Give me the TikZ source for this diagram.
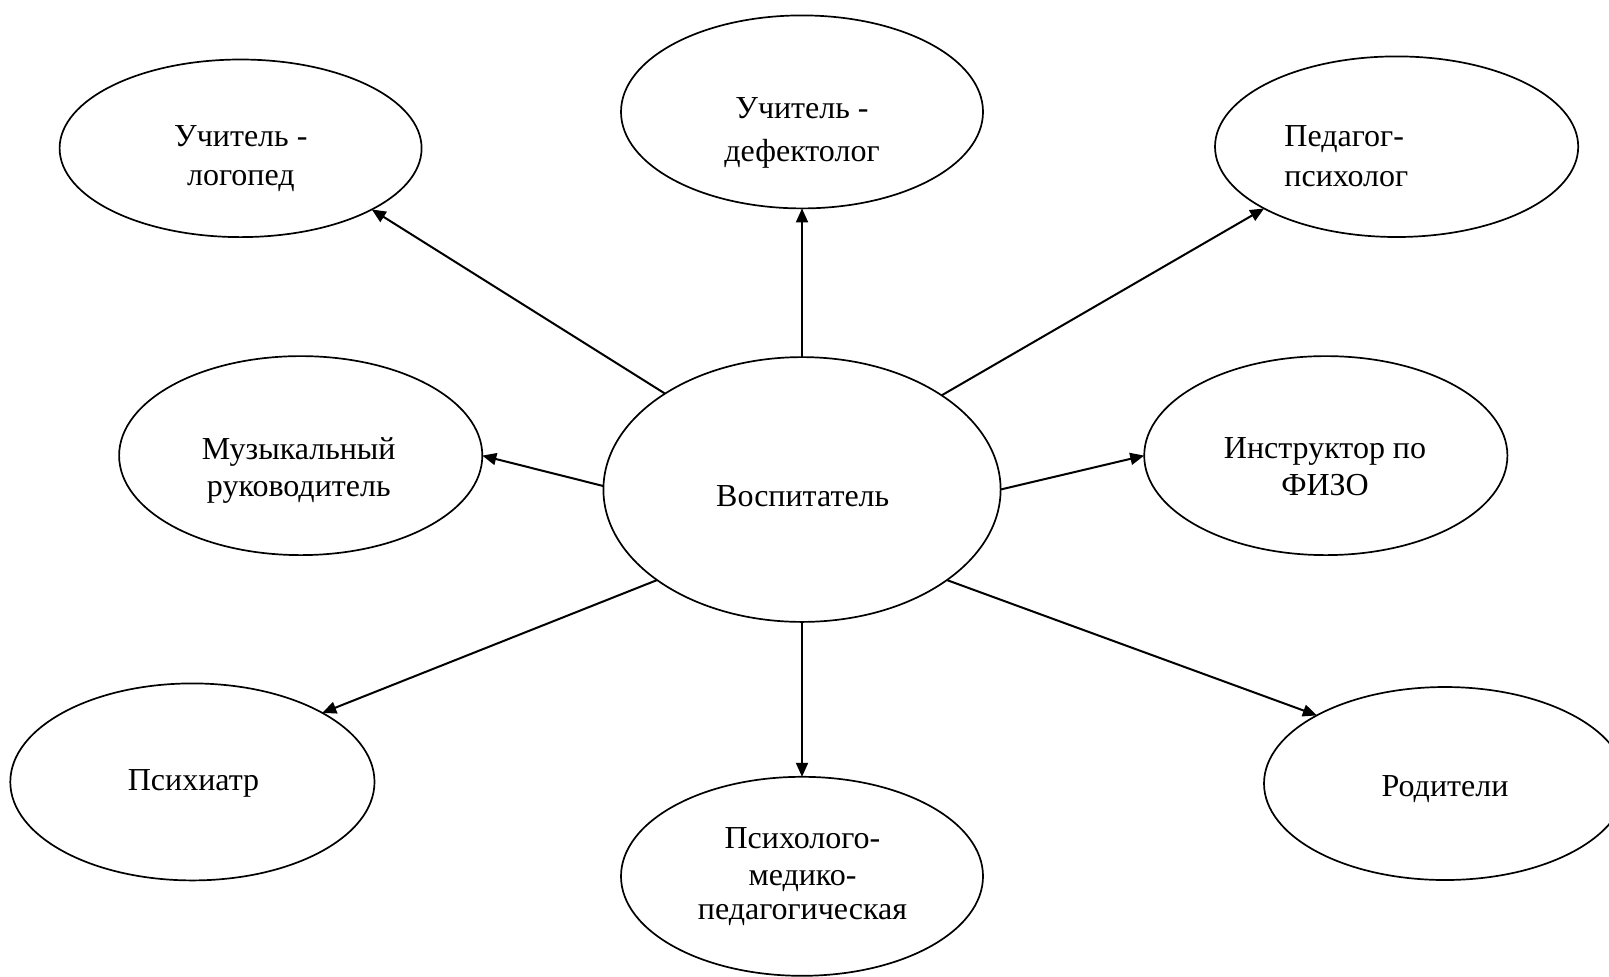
\documentclass[tikz,border=0pt]{standalone}
\usepackage{fontspec}
\setmainfont{Liberation Serif}
\usetikzlibrary{shapes.geometric,arrows.meta}
\begin{document}
\begin{tikzpicture}[x=0.5pt,y=-0.5pt,
  oval/.style={draw,ellipse,line width=0.85pt,inner sep=0pt,outer sep=0pt},
  lbl/.style={font=\fontsize{16}{19}\selectfont,anchor=base,inner sep=0pt},
  lblw/.style={lbl,anchor=base west},
  arr/.style={-{Triangle[length=7pt,width=6pt]},line width=1pt}]
\useasboundingbox (0,0) rectangle (1609,976);
% ellipses
\node[oval,minimum width=181pt,minimum height=88.8pt] (l) at (240.6,148.3) {};
\node[oval,minimum width=181pt,minimum height=96.5pt] (d) at (802,111.9) {};
\node[oval,minimum width=181.6pt,minimum height=90.3pt] (p) at (1396.6,146.7) {};
\node[oval,minimum width=181.6pt,minimum height=99.5pt] (m) at (300.7,455.6) {};
\node[oval,minimum width=198.6pt,minimum height=132.4pt] (v) at (802,489.5) {};
\node[oval,minimum width=181.6pt,minimum height=99.5pt] (f) at (1325.8,455.6) {};
\node[oval,minimum width=182.1pt,minimum height=98.5pt] (s) at (192.4,781.9) {};
\node[oval,minimum width=181pt,minimum height=99.5pt] (k) at (802,876.3) {};
\node[oval,minimum width=181pt,minimum height=96.5pt] (r) at (1445,783.5) {};
% labels
\node[lbl] (l1) at (240.8,146.7) {Учитель -};
\node[lbl] (l2) at (240.8,185) {логопед};
\node[lbl] (d1) at (802,118.3) {Учитель -};
\node[lbl] (d2) at (802,161.7) {дефектолог};
\node[lblw] (p1) at (1284,146.7) {Педагог-};
\node[lblw] (p2) at (1284,186.7) {психолог};
\node[lbl] (m1) at (298.8,459.3) {Музыкальный};
\node[lbl] (m2) at (298.8,496) {руководитель};
\node[lbl] (v1) at (802.7,506.7) {Воспитатель};
\node[lbl] (f1) at (1325,458.3) {Инструктор по};
\node[lbl] (f2) at (1325,495) {ФИЗО};
\node[lbl] (s1) at (193.5,790) {Психиатр};
\node[lbl] (k1) at (802.5,848.3) {Психолого-};
\node[lbl] (k2) at (802.5,885) {медико-};
\node[lbl] (k3) at (802.5,919.3) {педагогическая};
\node[lbl] (r1) at (1445,796.7) {Родители};
% arrows
\draw[arr] (v.145.8) -- (l.-25.4);
\draw[arr] (v.90) -- (d.-90);
\draw[arr] (v.34.2) -- (p.205.3);
\draw[arr] (v.179.4) -- (m.-0.3);
\draw[arr] (v.0.6) -- (f.180.3);
\draw[arr] (v.212.7) -- (s.28.3);
\draw[arr] (v.-90) -- (k.90);
\draw[arr] (v.-32.7) -- (r.152.8);
\end{tikzpicture}
\end{document}
